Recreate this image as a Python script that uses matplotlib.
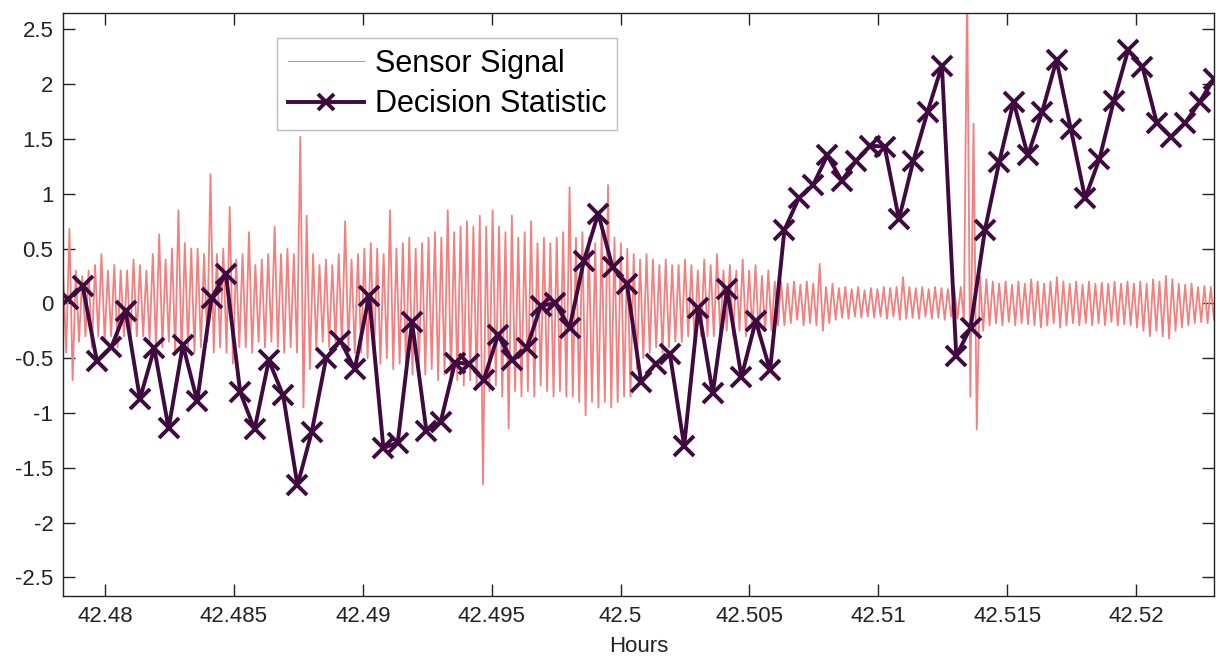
import matplotlib
matplotlib.use('Agg')
import matplotlib.pyplot as plt
import numpy as np

# decision statistic, one value every 2 seconds
t_start = 42.478577
decision = [
    0.04, 0.16, -0.53, -0.40, -0.07, -0.87, -0.41, -1.14, -0.38, -0.89,
    0.05, 0.27, -0.81, -1.15, -0.52, -0.84, -1.66, -1.17, -0.50, -0.34,
    -0.60, 0.07, -1.32, -1.27, -0.17, -1.16, -1.08, -0.54, -0.55, -0.70,
    -0.29, -0.52, -0.41, -0.02, 0.00, -0.22, 0.39, 0.82, 0.33, 0.18,
    -0.72, -0.55, -0.46, -1.30, -0.04, -0.82, 0.13, -0.67, -0.16, -0.61,
    0.67, 0.96, 1.08, 1.35, 1.12, 1.30, 1.44, 1.43, 0.77, 1.30,
    1.75, 2.17, -0.48, -0.22, 0.67, 1.29, 1.84, 1.35, 1.75, 2.22,
    1.59, 0.96, 1.32, 1.85, 2.31, 2.16, 1.65, 1.52, 1.65, 1.84,
    2.05,
]

# sensor signal, read as successive peaks (hi) and troughs (lo)
sensor_hi = [
    0.30, 0.68, 0.30, 0.25, 0.30, 0.35, 0.45, 0.30, 0.35, 0.30,
    0.30, 0.40, 0.35, 0.30, 0.45, 0.63, 0.40, 0.50, 0.85, 0.55,
    0.50, 0.50, 0.45, 1.18, 0.45, 0.50, 0.88, 0.40, 0.45, 0.65,
    0.35, 0.40, 0.45, 0.70, 0.45, 0.50, 0.45, 1.52, 0.80, 0.45,
    0.35, 0.40, 0.35, 0.45, 0.75, 0.40, 0.45, 0.50,
    0.55, 0.50, 0.45, 0.85, 0.50, 0.55, 0.60, 0.50, 0.55, 0.60,
    0.65, 0.60, 0.85, 0.65, 0.70, 0.75, 0.70, 0.80, 0.70, 0.85,
    0.70, 0.65, 0.80, 0.60, 0.65, 0.75, 0.55, 0.60, 0.55, 0.60,
    0.65, 1.06, 0.60, 0.65, 0.60, 0.55, 0.65, 1.08, 0.60, 0.55,
    0.50, 0.45, 0.40, 0.45, 0.40, 0.35, 0.40, 0.35,
    0.35, 0.40, 0.35, 0.30, 0.40, 0.35, 0.45, 0.30, 0.35, 0.30,
    0.40, 0.30, 0.35, 0.25, 0.30, 0.20, 0.20, 0.18, 0.20, 0.17,
    0.20, 0.18, 0.36, 0.15, 0.18, 0.14, 0.15, 0.13, 0.15, 0.12,
    0.14, 0.13, 0.15, 0.14, 0.15, 0.24, 0.15, 0.14, 0.15, 0.13,
    0.15, 0.14, 0.13, 0.14, 0.15, 2.90, 1.64, 0.25,
    0.22, 0.20, 0.18, 0.20, 0.17, 0.20, 0.18, 0.22, 0.20, 0.18,
    0.20, 0.24, 0.20, 0.18, 0.20, 0.17, 0.20, 0.18, 0.19, 0.18,
    0.20, 0.18, 0.20, 0.18, 0.20, 0.18, 0.22, 0.20, 0.25, 0.22,
    0.18, 0.17, 0.18, 0.15, 0.16, 0.15,
]
sensor_lo = [
    -0.45, -0.70, -0.35, -0.30, -0.40, -0.30, -0.35, -0.30, -0.40, -0.30,
    -0.35, -0.30, -0.30, -0.35, -0.40, -0.40, -0.35, -0.45, -0.50, -0.40,
    -0.45, -0.40, -0.35, -0.45, -0.40, -0.45, -0.55, -0.40, -0.40, -0.45,
    -0.35, -0.40, -0.35, -0.40, -0.45, -0.40, -0.45, -0.95, -0.60, -0.40,
    -0.35, -0.40, -0.35, -0.40, -0.40, -0.45, -0.45, -0.50,
    -0.50, -0.55, -0.50, -0.60, -0.55, -0.60, -0.65, -0.60, -0.65, -0.60,
    -0.70, -0.65, -0.70, -0.70, -0.75, -0.70, -0.75, -1.65, -0.80, -0.75,
    -0.85, -1.14, -0.80, -0.85, -0.80, -0.85, -0.75, -0.80, -0.85, -0.80,
    -0.85, -0.85, -0.90, -1.02, -0.90, -0.95, -0.90, -0.95, -0.90, -0.85,
    -0.85, -0.60, -0.50, -0.45, -0.40, -0.45, -0.40, -0.35,
    -0.35, -0.30, -0.35, -0.30, -0.30, -0.30, -0.30, -0.25, -0.30, -0.25,
    -0.30, -0.25, -0.30, -0.25, -0.25, -0.20, -0.20, -0.18, -0.15, -0.20,
    -0.18, -0.20, -0.25, -0.18, -0.15, -0.13, -0.14, -0.12, -0.13, -0.12,
    -0.13, -0.12, -0.14, -0.12, -0.15, -0.14, -0.13, -0.14, -0.12, -0.14,
    -0.13, -0.15, -0.12, -0.14, -0.15, -0.85, -1.15, -0.25,
    -0.20, -0.18, -0.20, -0.17, -0.20, -0.18, -0.19, -0.20, -0.22, -0.20,
    -0.18, -0.22, -0.20, -0.18, -0.20, -0.18, -0.20, -0.18, -0.20, -0.17,
    -0.20, -0.19, -0.20, -0.22, -0.25, -0.30, -0.25, -0.30, -0.32, -0.25,
    -0.22, -0.20, -0.18, -0.17, -0.18, -0.15,
]

x_ticks = [42.48, 42.485, 42.49, 42.495, 42.5, 42.505, 42.51, 42.515, 42.52]
y_ticks = [-2.5, -2, -1.5, -1, -0.5, 0, 0.5, 1, 1.5, 2, 2.5]
x_lim = (42.47837, 42.52302)
y_lim = (-2.67, 2.65)

plt.rcParams['font.family'] = ['Liberation Sans', 'DejaVu Sans']
plt.rcParams['axes.unicode_minus'] = False

sensor = np.empty(2 * len(sensor_hi))
sensor[0::2] = sensor_hi
sensor[1::2] = sensor_lo
t_sensor = np.linspace(x_lim[0], x_lim[1], len(sensor))
t_decision = t_start + np.arange(len(decision)) * 2.0 / 3600.0

fig = plt.figure(figsize=(12.16, 6.56), dpi=100)
ax = fig.add_axes([63 / 1216, 1 - 596 / 656, 1151 / 1216, 583 / 656])

ax.plot(t_sensor, sensor, color='#f47f7f', lw=1.3, label='Sensor Signal')
ax.plot(t_decision, decision, color='#3f0a40', lw=2.8, marker='x',
        markersize=14, markeredgewidth=2.8, label='Decision Statistic')

ax.set_xlim(*x_lim)
ax.set_ylim(*y_lim)
ax.set_xticks(x_ticks)
ax.set_xticklabels(['%g' % v for v in x_ticks])
ax.set_yticks(y_ticks)
ax.set_yticklabels(['%g' % v for v in y_ticks])
ax.tick_params(direction='in', length=8.5, width=1, top=True, right=True,
               labelsize=16, colors='#222222', pad=7)
for s in ax.spines.values():
    s.set_linewidth(1.0)
    s.set_color('#222222')
ax.set_xlabel('Hours', fontsize=16, color='#222222', labelpad=7)

leg = ax.legend(loc='upper left', bbox_to_anchor=(0.186, 0.957),
                borderaxespad=0, fontsize=22, fancybox=False,
                handlelength=2.5, handletextpad=0.35, labelspacing=0.35,
                borderpad=0.35, framealpha=1)
leg.get_frame().set_edgecolor('#bbbbbb')
leg.get_frame().set_linewidth(1.0)
leg.get_lines()[0].set_linewidth(0.8)
leg.get_lines()[1].set_markersize(12)

fig.savefig('out.png', dpi=100)
